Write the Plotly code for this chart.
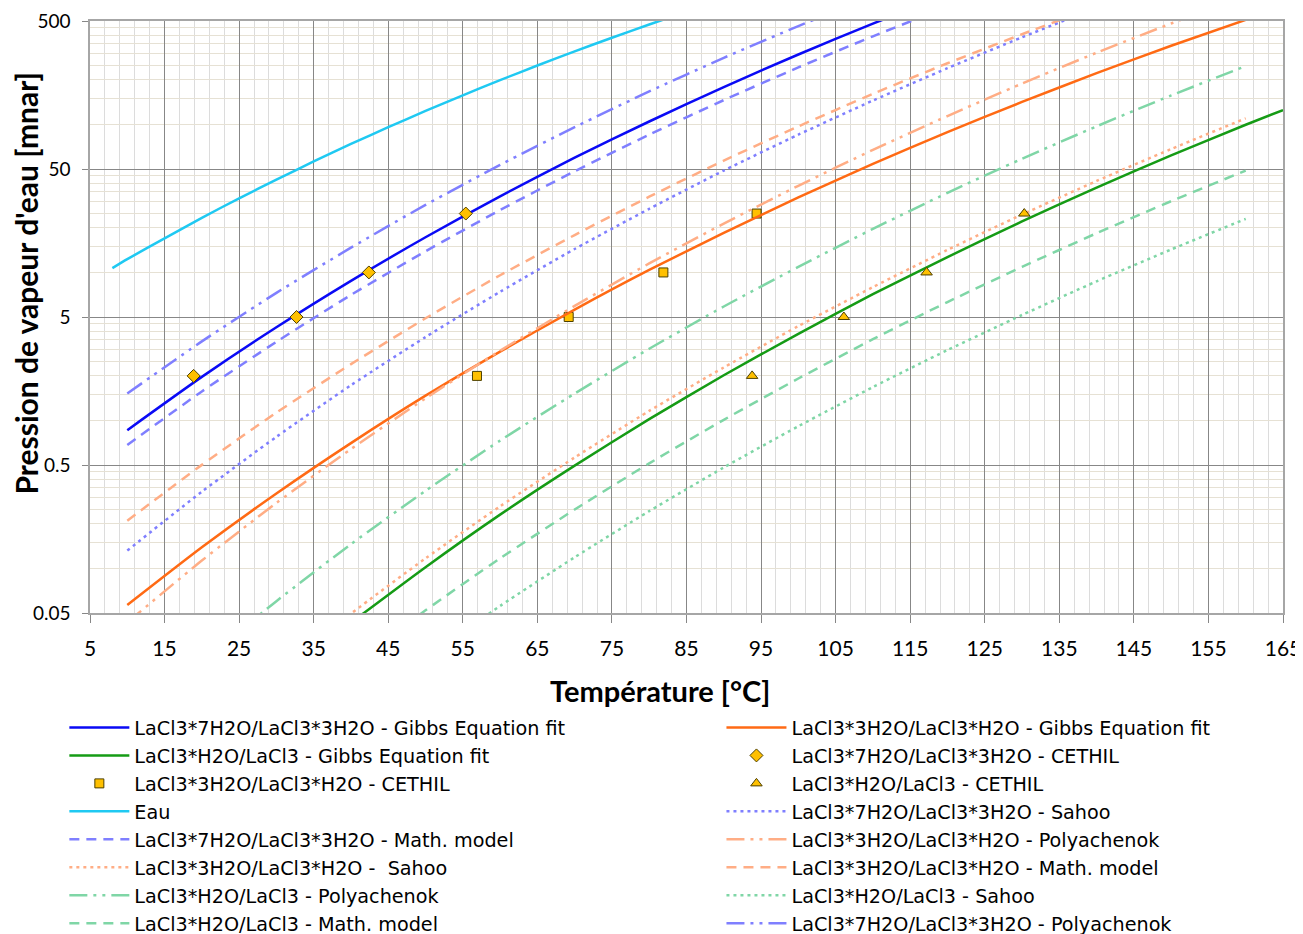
import math
import plotly.graph_objects as go

FONT = "Lato"
LEG_FONT = "DejaVu Sans"

# ---------------- data ----------------
# Temperatures in °C, pressures in mbar
x_b_gibbs = [10, 20, 30, 40, 50, 60, 70, 80, 90, 100, 110, 120]
y_b_gibbs = [0.86, 1.97, 4.26, 8.77, 17.3, 32.7, 59.6, 104.7, 179, 297, 480, 757]

x_o_gibbs = [10, 20, 30, 40, 50, 60, 70, 80, 90, 100, 110, 120, 130, 140, 150, 160]
y_o_gibbs = [0.0566, 0.139, 0.321, 0.703, 1.47, 2.92, 5.61, 10.4, 18.5, 32.1, 54.1, 88.7, 142, 222, 340, 509]

x_g_gibbs = [40, 50, 60, 70, 80, 90, 100, 110, 120, 130, 140, 150, 160, 165]
y_g_gibbs = [0.0430, 0.102, 0.231, 0.495, 1.02, 2.02, 3.85, 7.13, 12.7, 22.1, 37.4, 61.8, 99.5, 125]

x_b_cethil = [18.9, 32.7, 42.4, 55.4]
y_b_cethil = [2, 5, 10, 25]

x_o_cethil = [56.9, 69.2, 81.9, 94.4]
y_o_cethil = [2, 5, 10, 25]

x_g_cethil = [93.8, 106.1, 117.2, 130.3]
y_g_cethil = [2, 5, 10, 25]

x_eau = [8, 10, 15, 20, 25, 30, 35, 40, 45, 50, 55, 60, 65, 70, 75, 80, 85]
y_eau = [10.7, 12.3, 17.0, 23.4, 31.7, 42.4, 56.2, 73.8, 95.8, 123.4, 157.4, 199.3, 250.1, 311.8, 385.5, 473.6, 578]

x_b_sahoo = [10, 20, 30, 40, 50, 60, 70, 80, 90, 100, 110, 120, 130, 140]
y_b_sahoo = [0.132, 0.330, 0.775, 1.73, 3.66, 7.40, 14.4, 26.9, 48.8, 85.3, 145, 240, 388, 614]

x_b_math = [10, 20, 30, 40, 50, 60, 70, 80, 90, 100, 110, 120]
y_b_math = [0.682, 1.57, 3.40, 7.05, 13.9, 26.4, 48.3, 85.3, 146, 243, 394, 624]

x_o_poly = [10, 20, 30, 40, 50, 60, 70, 80, 90, 100, 110, 120, 130, 140, 150, 160]
y_o_poly = [0.0432, 0.113, 0.277, 0.641, 1.41, 2.96, 5.94, 11.5, 21.4, 38.5, 67.3, 114, 189, 305, 481, 743]

x_o_sahoo = [30, 40, 50, 60, 70, 80, 90, 100, 110, 120, 130, 140, 150, 160]
y_o_sahoo = [0.0198, 0.0495, 0.117, 0.263, 0.562, 1.16, 2.28, 4.34, 7.96, 14.2, 24.6, 41.5, 68.2, 110]

x_o_math = [10, 20, 30, 40, 50, 60, 70, 80, 90, 100, 110, 120, 130, 140]
y_o_math = [0.210, 0.501, 1.13, 2.40, 4.90, 9.57, 17.9, 32.5, 57.0, 97.0, 161, 259, 407, 628]

x_g_poly = [20, 30, 40, 50, 60, 70, 80, 90, 100, 110, 120, 130, 140, 150, 160]
y_g_poly = [0.0233, 0.0601, 0.146, 0.335, 0.731, 1.52, 3.05, 5.89, 10.9, 19.7, 34.5, 58.6, 97.1, 157, 248]

x_g_sahoo = [50, 60, 70, 80, 90, 100, 110, 120, 130, 140, 150, 160]
y_g_sahoo = [0.0249, 0.0558, 0.119, 0.244, 0.481, 0.914, 1.68, 2.99, 5.16, 8.71, 14.3, 23.0]

x_g_math = [40, 50, 60, 70, 80, 90, 100, 110, 120, 130, 140, 150, 160]
y_g_math = [0.022, 0.0521, 0.117, 0.250, 0.513, 1.01, 1.92, 3.54, 6.31, 10.9, 18.4, 30.3, 48.8]

x_b_poly = [10, 20, 30, 40, 50, 60, 70, 80, 90, 100, 110]
y_b_poly = [1.52, 3.42, 7.28, 14.7, 28.6, 53.3, 95.9, 167, 282, 462, 740]

y_tickvals = [0.05, 0.5, 5, 50, 500]
y_ticktext = ["0.05", "0.5", "5", "50", "500"]

# ---------------- styles ----------------
BLUE = "#0A0AF5"
ORANGE = "#FF6A14"
GREEN = "#159B15"
CYAN = "#1FC9F2"
L_BLUE = "#7F7FFF"
L_ORANGE = "#FFAD85"
L_GREEN = "#7FD6A6"
MK_FILL = "#FFC000"
MK_LINE = "#4D4000"

DASH = "10px,7px"
DOT = "3px,4px"
DASHDOTDOT = "18px,6px,3px,6px,3px,6px"

fig = go.Figure()


def add_line(name, x, y, color, dash="solid", legend="legend", width=2.5):
    fig.add_trace(go.Scatter(
        x=x, y=y, name=name, mode="lines", legend=legend,
        line=dict(color=color, width=width, dash=dash, shape="spline", smoothing=0.6),
    ))


def add_markers(name, x, y, symbol, size, legend="legend"):
    fig.add_trace(go.Scatter(
        x=x, y=y, name=name, mode="markers", legend=legend,
        marker=dict(symbol=symbol, size=size, color=MK_FILL,
                    line=dict(color=MK_LINE, width=1)),
    ))


# left legend column
add_line("LaCl3*7H2O/LaCl3*3H2O - Gibbs Equation fit", x_b_gibbs, y_b_gibbs, BLUE)
add_line("LaCl3*H2O/LaCl3 - Gibbs Equation fit", x_g_gibbs, y_g_gibbs, GREEN)
add_markers("LaCl3*3H2O/LaCl3*H2O - CETHIL", x_o_cethil, y_o_cethil, "square", 9)
add_line("Eau", x_eau, y_eau, CYAN)
add_line("LaCl3*7H2O/LaCl3*3H2O - Math. model", x_b_math, y_b_math, L_BLUE, DASH)
add_line("LaCl3*3H2O/LaCl3*H2O -  Sahoo", x_o_sahoo, y_o_sahoo, L_ORANGE, DOT)
add_line("LaCl3*H2O/LaCl3 - Polyachenok", x_g_poly, y_g_poly, L_GREEN, DASHDOTDOT)
add_line("LaCl3*H2O/LaCl3 - Math. model", x_g_math, y_g_math, L_GREEN, DASH)
# right legend column
add_line("LaCl3*3H2O/LaCl3*H2O - Gibbs Equation fit", x_o_gibbs, y_o_gibbs, ORANGE, legend="legend2")
add_markers("LaCl3*7H2O/LaCl3*3H2O - CETHIL", x_b_cethil, y_b_cethil, "diamond", 10, legend="legend2")
add_markers("LaCl3*H2O/LaCl3 - CETHIL", x_g_cethil, y_g_cethil, "triangle-up", 10, legend="legend2")
add_line("LaCl3*7H2O/LaCl3*3H2O - Sahoo", x_b_sahoo, y_b_sahoo, L_BLUE, DOT, legend="legend2")
add_line("LaCl3*3H2O/LaCl3*H2O - Polyachenok", x_o_poly, y_o_poly, L_ORANGE, DASHDOTDOT, legend="legend2")
add_line("LaCl3*3H2O/LaCl3*H2O - Math. model", x_o_math, y_o_math, L_ORANGE, DASH, legend="legend2")
add_line("LaCl3*H2O/LaCl3 - Sahoo", x_g_sahoo, y_g_sahoo, L_GREEN, DOT, legend="legend2")
add_line("LaCl3*7H2O/LaCl3*3H2O - Polyachenok", x_b_poly, y_b_poly, L_BLUE, DASHDOTDOT, legend="legend2")

# minor log gridlines at k * decade, k = 2..9
y_minor = [round(d * k, 6) for d in y_tickvals[:-1] for k in range(2, 10)]

GRID = "#878787"
legend_common = dict(
    orientation="v", xanchor="left", yanchor="top", y=-0.1613,
    itemwidth=60, font=dict(family=LEG_FONT, size=19.2, color="#000000"),
    bgcolor="rgba(0,0,0,0)", traceorder="normal", tracegroupgap=0,
)
fig.update_layout(
    width=1295, height=926,
    margin=dict(l=82, r=20, t=13, b=321, autoexpand=False),
    paper_bgcolor="white", plot_bgcolor="white",
    font=dict(family=FONT, color="#000000"),
    showlegend=True,
    legend=dict(x=-0.0215, **legend_common),
    legend2=dict(x=0.5293, **legend_common),
    xaxis=dict(
        range=[5, 165], tickmode="linear", tick0=5, dtick=10,
        showgrid=True, gridcolor=GRID, gridwidth=1, zeroline=False,
        ticks="outside", ticklen=8, tickcolor=GRID, tickwidth=1,
        showline=True, linecolor="#A6A6A6", linewidth=1.5, mirror=True,
        tickfont=dict(family=FONT, size=21, color="#000000"),
        ticklabelstandoff=8,
        minor=dict(tick0=5, dtick=2, showgrid=True, gridcolor="#DCDCDC", gridwidth=1, ticks=""),
    ),
    yaxis=dict(
        type="log", range=[math.log10(0.05), math.log10(500)],
        tickmode="array", tickvals=y_tickvals, ticktext=y_ticktext,
        showgrid=True, gridcolor=GRID, gridwidth=1, zeroline=False,
        ticks="outside", ticklen=6, tickcolor=GRID, tickwidth=1,
        showline=True, linecolor="#A6A6A6", linewidth=1.5, mirror=True,
        tickfont=dict(family=FONT, size=19, color="#000000"),
        ticklabelstandoff=8,
        minor=dict(tickmode="array", tickvals=y_minor, showgrid=True,
                   gridcolor="#E6E1D4", gridwidth=1, ticks=""),
    ),
    annotations=[
        dict(text="<b>Pression de vapeur d'eau [mnar]</b>", textangle=-90,
             xref="paper", yref="paper", x=-0.0536, y=0.5566,
             xanchor="center", yanchor="middle", showarrow=False,
             font=dict(family=FONT, size=30, color="#000000")),
        dict(text="<b>Température [°C]</b>",
             xref="paper", yref="paper", x=(660 - 90) / 1193, y=(613 - 690) / 592,
             xanchor="center", yanchor="middle", showarrow=False,
             font=dict(family=FONT, size=29, color="#000000")),
    ],
)

fig.write_html("out.html")
